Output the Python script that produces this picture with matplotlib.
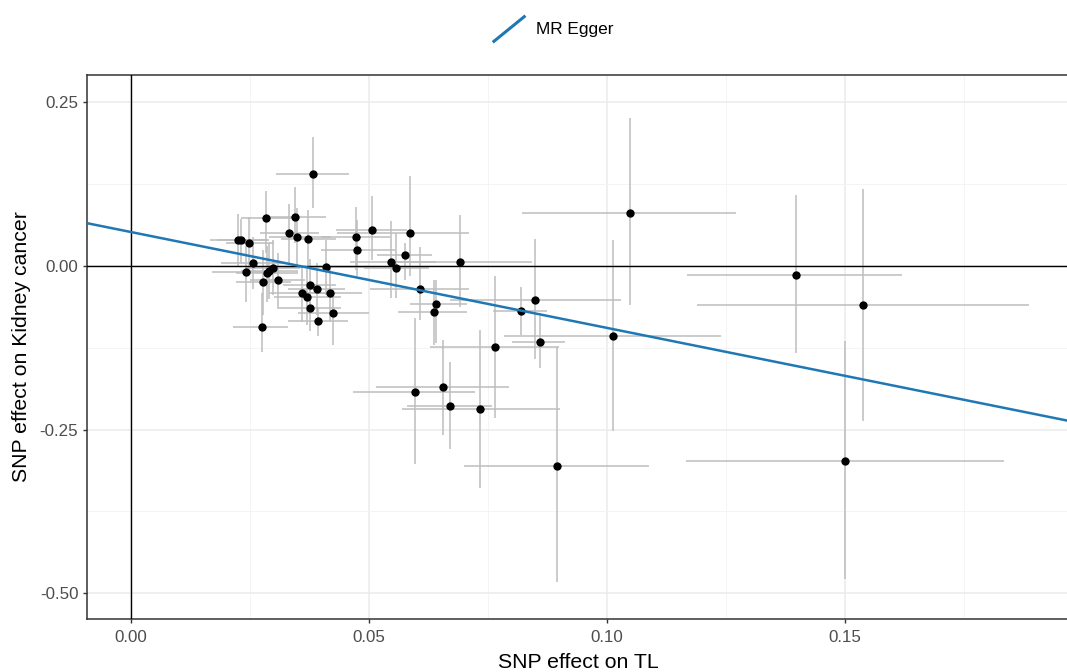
import matplotlib
matplotlib.use("Agg")
import matplotlib.pyplot as plt
from matplotlib.lines import Line2D
from matplotlib.legend_handler import HandlerBase
import numpy as np

plt.rcParams['font.family'] = ['Liberation Sans', 'DejaVu Sans']

# ---- data ----
snp_x = [0.0382, 0.0284, 0.0345, 0.0332, 0.0349, 0.0371, 0.0225, 0.0232, 0.0247, 0.0256,
         0.0241, 0.0298, 0.0290, 0.0286, 0.0277, 0.0308, 0.0275, 0.0375, 0.0359, 0.0369,
         0.0390, 0.0375, 0.0417, 0.0393, 0.0424, 0.0409, 0.0472, 0.0475, 0.0506, 0.0546,
         0.0557, 0.0576, 0.0585, 0.0606, 0.0640, 0.0637, 0.0691, 0.0764, 0.0819, 0.0849,
         0.0859, 0.1013, 0.1047, 0.0597, 0.0655, 0.0670, 0.0734, 0.0895, 0.1397, 0.1537,
         0.1500]
snp_y = [0.141, 0.0727, 0.075, 0.0508, 0.0437, 0.0417, 0.0396, 0.0390, 0.035, 0.004,
         -0.009, -0.0026, -0.0076, -0.010, -0.0244, -0.0218, -0.093, -0.0285, -0.042, -0.0466,
         -0.0356, -0.0645, -0.0417, -0.0843, -0.0711, -0.002, 0.0437, 0.0244, 0.0549, 0.0066,
         -0.0026, 0.0173, 0.0508, -0.0356, -0.058, -0.071, 0.0061, -0.123, -0.069, -0.0514,
         -0.1154, -0.1062, 0.0813, -0.1925, -0.1855, -0.2144, -0.2185, -0.305, -0.0137, -0.060,
         -0.298]
x_lo = [0.0305, 0.0230, 0.0290, 0.0270, 0.0290, 0.0315, 0.0165, 0.0180, 0.0200, 0.0190,
        0.0170, 0.0240, 0.0230, 0.0220, 0.0220, 0.0250, 0.0215, 0.0320, 0.0290, 0.0300,
        0.0330, 0.0310, 0.0350, 0.0330, 0.0350, 0.0320, 0.0400, 0.0400, 0.0430, 0.0460,
        0.0490, 0.0516, 0.0432, 0.0502, 0.0585, 0.0560, 0.0540, 0.0627, 0.0760, 0.0670,
        0.0800, 0.0784, 0.0821, 0.0466, 0.0515, 0.0580, 0.0569, 0.0700, 0.1168, 0.1189,
        0.1165]
x_hi = [0.0458, 0.0340, 0.0410, 0.0395, 0.0420, 0.0430, 0.0290, 0.0285, 0.0300, 0.0320,
        0.0310, 0.0355, 0.0350, 0.0350, 0.0335, 0.0365, 0.0330, 0.0430, 0.0430, 0.0440,
        0.0450, 0.0440, 0.0485, 0.0455, 0.0500, 0.0500, 0.0545, 0.0555, 0.0580, 0.0640,
        0.0625, 0.0632, 0.0709, 0.0709, 0.0705, 0.0705, 0.0842, 0.0898, 0.0873, 0.1030,
        0.0912, 0.1240, 0.1270, 0.0723, 0.0793, 0.0758, 0.0900, 0.1088, 0.1620, 0.1885,
        0.1833]
y_lo = [0.088, 0.020, 0.035, 0.005, 0.000, -0.005, 0.000, 0.005, -0.005, -0.035,
        -0.055, -0.045, -0.050, -0.055, -0.075, -0.065, -0.131, -0.065, -0.085, -0.090,
        -0.075, -0.100, -0.085, -0.107, -0.120, -0.045, -0.006, -0.016, 0.009, -0.049,
        -0.049, -0.021, -0.016, -0.082, -0.118, -0.120, -0.062, -0.232, -0.1056, -0.142,
        -0.156, -0.2526, -0.060, -0.303, -0.258, -0.279, -0.339, -0.483, -0.133, -0.237,
        -0.478]
y_hi = [0.197, 0.115, 0.120, 0.095, 0.088, 0.085, 0.080, 0.072, 0.075, 0.045,
        0.030, 0.040, 0.035, 0.030, 0.025, 0.020, -0.041, 0.010, 0.000, -0.005,
        0.005, -0.030, 0.000, -0.062, -0.035, 0.040, 0.090, 0.070, 0.107, 0.068,
        0.050, 0.035, 0.137, 0.0285, -0.021, -0.021, 0.078, -0.015, -0.0325, 0.0406,
        -0.077, 0.040, 0.226, -0.080, -0.113, -0.146, -0.0976, -0.124, 0.1087, 0.117,
        -0.114]

egger_label = "MR Egger"
egger_intercept = 0.0519
egger_slope = -1.465

x_ticks = [0.00, 0.05, 0.10, 0.15]
x_minor = [0.025, 0.075, 0.125, 0.175]
y_ticks = [-0.50, -0.25, 0.00, 0.25]
y_minor = [-0.375, -0.125, 0.125]
x_title = "SNP effect on TL"
y_title = "SNP effect on Kidney cancer"

# ---- drawing ----
W, H = 1067, 672
fig = plt.figure(figsize=(W / 100, H / 100), dpi=100)
left_px, right_px, top_px, bot_px = 86.7, 1070, 75, 618.5
ax = fig.add_axes([left_px / W, 1 - bot_px / H, (right_px - left_px) / W, (bot_px - top_px) / H])

ax.set_xlim(-0.0093, 0.1972)
ax.set_ylim(-0.5385, 0.2918)

ax.set_xticks(x_ticks)
ax.set_xticks(x_minor, minor=True)
ax.set_yticks(y_ticks)
ax.set_yticks(y_minor, minor=True)
ax.set_xticklabels([f"{v:.2f}" for v in x_ticks])
ax.set_yticklabels([f"{v:.2f}" for v in y_ticks])
ax.grid(which='major', color='#EBEBEB', lw=1.1, zorder=0)
ax.grid(which='minor', color='#F3F3F3', lw=0.6, zorder=0)
ax.set_axisbelow(True)
ax.tick_params(which='major', length=3, width=1.0, color='#333333', labelcolor='#4D4D4D',
               labelsize=12.2)
ax.tick_params(axis='x', which='major', pad=5)
ax.tick_params(axis='y', which='major', pad=3)
ax.tick_params(which='minor', length=0)
for s in ax.spines.values():
    s.set_color('#333333')
    s.set_linewidth(1.1)
ax.spines['right'].set_visible(False)

err_col = '#BDBDBD'
ax.vlines(snp_x, y_lo, y_hi, color=err_col, lw=1.1, zorder=2)
ax.hlines(snp_y, x_lo, x_hi, color=err_col, lw=1.1, zorder=2)
ax.axhline(0, color='black', lw=1.0, zorder=3)
ax.axvline(0, color='black', lw=1.0, zorder=3)
ax.scatter(snp_x, snp_y, s=36, color='black', zorder=4, linewidths=0)
ax.axline((0, egger_intercept), slope=egger_slope, color='#1F78B4', lw=1.8, zorder=5,
          label=egger_label)

ax.set_xlabel(x_title, fontsize=15.3, color='black', labelpad=6)
ax.set_ylabel(y_title, fontsize=15.3, color='black', labelpad=6)


class DiagHandler(HandlerBase):
    def create_artists(self, legend, orig_handle, xdescent, ydescent, width, height,
                       fontsize, trans):
        ln = Line2D([-xdescent, -xdescent + width], [-ydescent, -ydescent + height],
                    color=orig_handle.get_color(), lw=orig_handle.get_linewidth() + 0.4,
                    solid_capstyle='butt')
        ln.set_transform(trans)
        return [ln]


handles, labels = ax.get_legend_handles_labels()
fig.legend(handles, labels, handler_map={handles[0]: DiagHandler()}, loc='center',
           bbox_to_anchor=(553 / W, 1 - 29 / H), frameon=False, fontsize=12.4,
           handlelength=1.9, handleheight=2.0, handletextpad=0.6, borderpad=0)

fig.savefig("out.png", dpi=100)
